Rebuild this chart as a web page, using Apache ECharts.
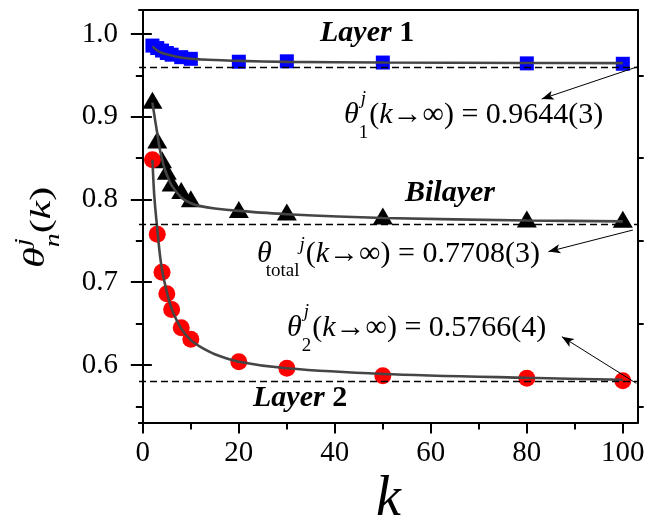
<!DOCTYPE html>
<html>
<head>
<meta charset="utf-8">
<script src="https://cdn.jsdelivr.net/npm/echarts@6/dist/echarts.min.js"></script>
<style>
  html, body { margin: 0; padding: 0; background: #fff; }
  #chart { width: 645px; height: 515px; }
</style>
</head>
<body>
<div id="chart"></div>
<script>
// Coverage theta_n^j(k) against k for the two layers and the bilayer
const kValues = [2, 3, 4, 5, 6, 8, 10, 20, 30, 50, 80, 100];
const layer1 = [0.986, 0.983, 0.980, 0.977, 0.975, 0.972, 0.970, 0.9665, 0.967, 0.9655, 0.9645, 0.964];
const bilayer = [0.920, 0.872, 0.848, 0.834, 0.820, 0.811, 0.801, 0.788, 0.785, 0.780, 0.7765, 0.776];
const layer2 = [0.848, 0.758, 0.712, 0.686, 0.667, 0.645, 0.631, 0.604, 0.596, 0.587, 0.584, 0.581];

// Fitted curves, sampled along k
const fitK1 = [2, 3, 4, 5, 6, 8, 10, 12, 15, 20, 30, 50, 80, 100];
const fit1 = [0.985, 0.980, 0.977, 0.9755, 0.974, 0.9715, 0.9700, 0.9693, 0.9686, 0.9675, 0.9663, 0.9655, 0.9650, 0.9648];
const fitK2 = [2, 2.5, 3, 3.5, 4, 4.5, 5, 6, 8, 10, 12, 15, 20, 30, 50, 80, 100];
const fit2 = [0.917, 0.898, 0.880, 0.862, 0.849, 0.838, 0.830, 0.817, 0.8025, 0.7955, 0.792, 0.7891, 0.7862, 0.7822, 0.7777, 0.7747, 0.7735];
const fitK3 = [2, 2.3, 2.6, 3, 3.5, 4, 5, 6, 8, 10, 12, 15, 20, 30, 50, 80, 100];
const fit3 = [0.848, 0.812, 0.789, 0.765, 0.736, 0.715, 0.688, 0.668, 0.644, 0.630, 0.6218, 0.6130, 0.6040, 0.5960, 0.5892, 0.5845, 0.5822];

// Extrapolated k -> infinity limits (dashed lines)
const limits = [0.9644, 0.7708, 0.5766];
const limitText = ['0.9644(3)', '0.7708(3)', '0.5766(4)'];

// Annotation arrows: [from, to] in (k, theta)
const arrows = [
  [[103.1, 0.9605], [83.1, 0.9215]],
  [[102.1, 0.7631], [84.5, 0.7370]],
  [[102.8, 0.5779], [87.3, 0.6342]]
];

// Axis ticks
const xMajor = [0, 20, 40, 60, 80, 100];
const xMinor = [10, 30, 50, 70, 90];
const yMajor = [0.6, 0.7, 0.8, 0.9, 1.0];
const yMinor = [0.55, 0.65, 0.75, 0.85, 0.95];
const xRange = [-0.8, 103.1];
const yRange = [0.5305, 1.029];

const FONT = "'Liberation Serif', 'Times New Roman', serif";
const pairs = (xs, ys) => xs.map((x, i) => [x, ys[i]]);

const chart = echarts.init(document.getElementById('chart'), null, { renderer: 'canvas' });

// text measuring, used to set formula pieces side by side
const mctx = document.createElement('canvas').getContext('2d');
function fontOf(size, italic, bold) {
  return (italic ? 'italic ' : '') + (bold ? 'bold ' : '') + size + 'px ' + FONT;
}
function measure(str, size, italic, bold) {
  mctx.font = fontOf(size, italic, bold);
  return mctx.measureText(str).width;
}

function text(x, y, str, size, italic, bold) {
  return {
    type: 'text', x: x, y: y, silent: true,
    style: {
      text: str, font: fontOf(size, italic, bold), fill: '#000',
      align: 'left', verticalAlign: 'middle',
      textAlign: 'left', textVerticalAlign: 'middle'
    }
  };
}

// Lay out a run of pieces: {t, size, italic, bold, dx, dy, adv}
function run(x, y, pieces) {
  const out = [];
  let cx = x;
  pieces.forEach(p => {
    out.push(text(cx + (p.dx || 0), y + (p.dy || 0), p.t, p.size, p.italic, p.bold));
    const w = p.adv !== undefined ? p.adv : measure(p.t, p.size, p.italic, p.bold);
    cx += w;
  });
  return out;
}

const F = 30, S = 19;
function tail(value) {
  return [
    { t: '(', size: F },
    { t: 'k', size: F, italic: true },
    { t: '\u2192', size: F },
    { t: '\u221E) = ' + value, size: F }
  ];
}
// theta with stacked subscript / superscript
function formulaStacked(x, y, sub, value) {
  const ws = Math.max(measure(sub, S), measure('j', S, true));
  return run(x, y, [
    { t: '\u03B8', size: F, italic: true },
    { t: 'j', size: S, italic: true, dy: -16, dx: 2, adv: 0 },
    { t: sub, size: S, dy: 18, adv: ws + 1 }
  ].concat(tail(value)));
}
// theta with subscript followed by superscript
function formulaTotal(x, y, value) {
  return run(x, y, [
    { t: '\u03B8', size: F, italic: true, adv: measure('\u03B8', F, true) - 6 },
    { t: 'total', size: S, dy: 17 },
    { t: 'j', size: S, italic: true, dy: -9, adv: measure('j', S, true) + 1 }
  ].concat(tail(value)));
}

const axisLine = { show: true, lineStyle: { color: '#000', width: 2 } };
const noLabel = { show: false };
const tickStyle = { color: '#000', width: 2 };

function xAxisBase(extra) {
  return Object.assign({
    type: 'value', min: xRange[0], max: xRange[1],
    splitLine: { show: false }, axisLine: axisLine
  }, extra);
}
function yAxisBase(extra) {
  return Object.assign({
    type: 'value', min: yRange[0], max: yRange[1],
    splitLine: { show: false }, axisLine: axisLine
  }, extra);
}

function fitSeries(name, ks, vs) {
  return {
    name: name, type: 'line', smooth: 0.3, showSymbol: false, z: 4,
    lineStyle: { color: '#454545', width: 2.6 }, data: pairs(ks, vs)
  };
}

const option = {
  animation: false,
  backgroundColor: '#fff',
  grid: { left: 139, right: 7.3, top: 10, bottom: 92.5, containLabel: false, outerBoundsMode: 'none' },
  xAxis: [
    xAxisBase({
      position: 'bottom',
      name: 'k', nameLocation: 'middle', nameGap: 44,
      nameTextStyle: { fontFamily: FONT, fontStyle: 'italic', fontSize: 56, color: '#000' },
      axisTick: { show: true, inside: false, length: 11, customValues: xMajor, lineStyle: tickStyle },
      axisLabel: { show: true, customValues: xMajor, margin: 16, fontFamily: FONT, fontSize: 29, color: '#000' }
    }),
    xAxisBase({
      position: 'bottom',
      axisTick: { show: true, inside: false, length: 7, customValues: xMinor, lineStyle: tickStyle },
      axisLabel: noLabel
    }),
    xAxisBase({ position: 'top', axisTick: { show: false }, axisLabel: noLabel })
  ],
  yAxis: [
    yAxisBase({
      position: 'left',
      axisTick: { show: true, inside: false, length: 12, customValues: yMajor, lineStyle: tickStyle },
      axisLabel: { show: true, customValues: yMajor, margin: 21, fontFamily: FONT, fontSize: 29, color: '#000',
        formatter: v => v.toFixed(1) }
    }),
    yAxisBase({
      position: 'left',
      axisTick: { show: true, inside: false, length: 7, customValues: yMinor, lineStyle: tickStyle },
      axisLabel: noLabel
    }),
    yAxisBase({
      position: 'right',
      axisTick: { show: true, inside: false, length: 9, customValues: yMajor, lineStyle: tickStyle },
      axisLabel: noLabel
    }),
    yAxisBase({
      position: 'right',
      axisTick: { show: true, inside: false, length: 6, customValues: yMinor, lineStyle: tickStyle },
      axisLabel: noLabel
    })
  ],
  series: [
    {
      name: 'limits', type: 'line', data: [], silent: true,
      markLine: {
        silent: true, symbol: ['none', 'none'], label: { show: false },
        lineStyle: { color: '#000', width: 1.3, type: [7, 4] },
        data: limits.map(v => ({ yAxis: v }))
      }
    },
    {
      name: 'Layer 1', type: 'scatter', symbol: 'rect', symbolSize: 14,
      itemStyle: { color: '#0000ff', opacity: 1 }, data: pairs(kValues, layer1), z: 3
    },
    {
      name: 'Bilayer', type: 'scatter', symbol: 'triangle', symbolSize: [20, 17],
      itemStyle: { color: '#000', opacity: 1 }, data: pairs(kValues, bilayer), z: 3
    },
    {
      name: 'Layer 2', type: 'scatter', symbol: 'circle', symbolSize: 17,
      itemStyle: { color: '#ff0000', opacity: 1 }, data: pairs(kValues, layer2), z: 3
    },
    fitSeries('fit 1', fitK1, fit1),
    fitSeries('fit bilayer', fitK2, fit2),
    fitSeries('fit 2', fitK3, fit3),
    {
      name: 'arrows', type: 'line', data: [], silent: true, z: 5,
      markLine: {
        silent: true, symbol: ['none', 'arrow'], symbolSize: [7, 12], label: { show: false },
        lineStyle: { color: '#000', width: 1, type: 'solid' },
        data: arrows.map(a => [{ coord: a[0] }, { coord: a[1] }])
      }
    }
  ],
  graphic: [].concat(
    // curve labels
    run(320, 33, [{ t: 'Layer ', size: 30, italic: true, bold: true }, { t: '1', size: 30, bold: true }]),
    run(405, 193, [{ t: 'Bilayer', size: 30, italic: true, bold: true }]),
    run(253, 398, [{ t: 'Layer ', size: 30, italic: true, bold: true }, { t: '2', size: 30, bold: true }]),

    // limit annotations
    formulaStacked(344, 115, '1', limitText[0]),
    formulaTotal(257, 254, limitText[1]),
    formulaStacked(287, 328, '2', limitText[2]),

    // y axis title theta_n^j(k), reading bottom to top
    [{
      type: 'group', x: 52, y: 268, rotation: Math.PI / 2, scaleX: 1.4, silent: true,
      children: run(0, -12, [
        { t: '\u03B8', size: F, italic: true, dy: -4 },
        { t: 'j', size: 20, italic: true, dy: -16, dx: 1, adv: 0 },
        { t: 'n', size: 20, italic: true, dy: 14, adv: measure('n', 20, true) },
        { t: '(', size: F, dy: 2 },
        { t: 'k', size: F, italic: true, dy: 2 },
        { t: ')', size: F, dy: 2 }
      ])
    }]
  )
};

chart.setOption(option);
</script>
</body>
</html>
